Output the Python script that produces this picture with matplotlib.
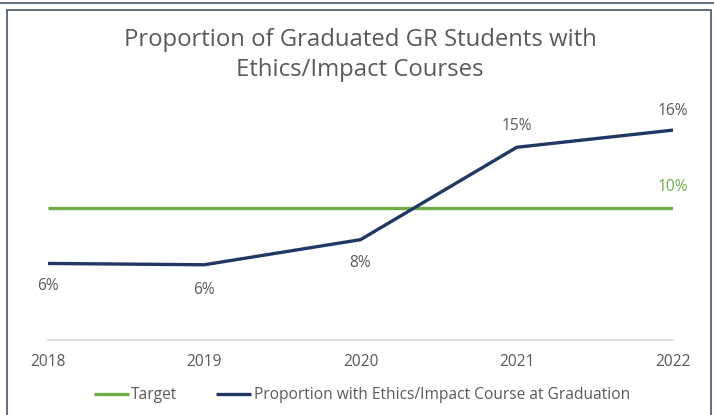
import matplotlib.pyplot as plt
from matplotlib.lines import Line2D
from matplotlib.patches import Rectangle

years = ["2018", "2019", "2020", "2021", "2022"]
proportion = [5.8, 5.7, 7.6, 14.6, 15.9]
target = [10, 10, 10, 10, 10]
prop_labels = ["6%", "6%", "8%", "15%", "16%"]
target_label = "10%"

navy = "#203864"
green = "#70AD47"
grey = "#595959"

plt.rcParams['font.family'] = ['Open Sans', 'DejaVu Sans']

fig = plt.figure(figsize=(7.14, 4.15), dpi=100)
W, H = 714, 415

# frame around the chart, plus the bottom edge of the box above
fig.add_artist(Line2D([0, 1], [1 - 3/H, 1 - 3/H], color="#44546A", lw=1.2))
fig.add_artist(Rectangle((7/W, -0.05), 704/W, 1.05 - 10/H, fill=False,
                         edgecolor="#44546A", lw=1.2))

ax = fig.add_axes([48/W, 1 - 340/H, (673 - 48)/W, (340 - 90)/H])
x = range(len(years))
ax.plot(x, target, color=green, lw=2.4, solid_capstyle="butt", label="Target")
ax.plot(x, proportion, color=navy, lw=2.4, solid_capstyle="butt",
        label="Proportion with Ethics/Impact Course at Graduation")

ax.set_xlim(0, 4)
ax.set_ylim(0, 340/13.2 - 90/13.2)
ax.set_xticks(list(x))
ax.set_xticklabels(years)
ax.set_yticks([])
for s in ["top", "left", "right"]:
    ax.spines[s].set_visible(False)
ax.spines["bottom"].set_color("#D9D9D9")
ax.spines["bottom"].set_linewidth(1.2)
ax.tick_params(axis="x", length=0, pad=10, labelsize=11.2, labelcolor=grey)
ax.patch.set_alpha(0)

# data labels
offsets = [(0, -16), (0, -18), (0, -17), (0, 15), (0, 14)]
for i, (v, lab) in enumerate(zip(proportion, prop_labels)):
    ax.annotate(lab, (i, v), xytext=offsets[i], textcoords="offset points",
                ha="center", va="center", fontsize=11.2, color=grey,
                annotation_clip=False)
ax.annotate(target_label, (4, target[-1]), xytext=(0, 15), textcoords="offset points",
            ha="center", va="center", fontsize=11.2, color=green, annotation_clip=False)

fig.text(360/W, 1 - 40/H, "Proportion of Graduated GR Students with",
         ha="center", va="center", fontsize=17.2, color=grey)
fig.text(360/W, 1 - 70/H, "Ethics/Impact Courses",
         ha="center", va="center", fontsize=17.2, color=grey)

fig.legend(loc="center", bbox_to_anchor=(362/W, 1 - 395/H), ncol=2, frameon=False,
           fontsize=11.2, labelcolor=grey, handlelength=2.25, handletextpad=0.15,
           columnspacing=2.5)

fig.savefig("out.png", dpi=100)
